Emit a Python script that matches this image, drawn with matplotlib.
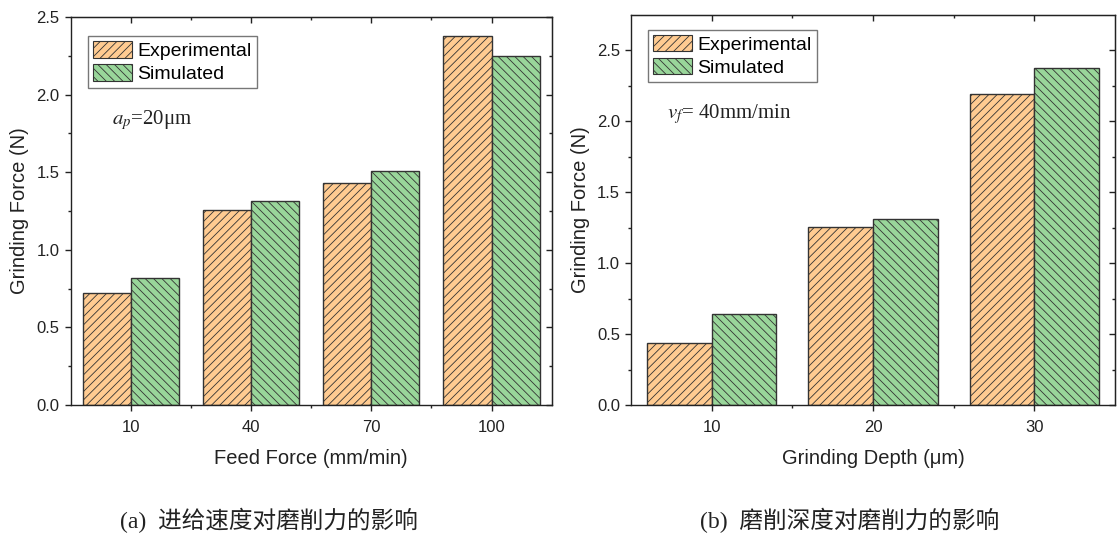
import numpy as np
import matplotlib
matplotlib.use("Agg")
import matplotlib.pyplot as plt
from matplotlib.patches import Patch

# ---- data ----
feed_labels = ["10", "40", "70", "100"]
feed_exp = [0.72, 1.256, 1.43, 2.38]
feed_sim = [0.82, 1.314, 1.508, 2.247]

depth_labels = ["10", "20", "30"]
depth_exp = [0.44, 1.256, 2.195]
depth_sim = [0.64, 1.315, 2.376]

series_names = ["Experimental", "Simulated"]
xlabels = ["Feed Force (mm/min)", "Grinding Depth (μm)"]
ylabel = "Grinding Force (N)"
notes = [r"$a_p$=20μm", r"$v_f$= 40mm/min"]
captions = ["(a)  进给速度对磨削力的影响", "(b)  磨削深度对磨削力的影响"]

# ---- style ----
plt.rcParams["font.family"] = ["Liberation Sans", "DejaVu Sans"]
plt.rcParams["mathtext.fontset"] = "stix"
plt.rcParams["hatch.linewidth"] = 0.6
plt.rcParams["hatch.color"] = "#333333"

c_exp = "#FFCB91"
c_sim = "#99D69A"
edge = "#333333"
h_exp = "////"
h_sim = "\\\\\\\\"

fig = plt.figure(figsize=(11.18, 5.36), dpi=100)
ax1 = fig.add_axes([0.0632, 0.2444, 0.4302, 0.7239])
ax2 = fig.add_axes([0.5644, 0.2444, 0.4329, 0.7276])

panels = [
    (ax1, feed_labels, feed_exp, feed_sim, 2.5, xlabels[0], notes[0], (0.085, 0.735), (0.036, 0.951)),
    (ax2, depth_labels, depth_exp, depth_sim, 2.75, xlabels[1], notes[1], (0.075, 0.745), (0.035, 0.962)),
]

w = 0.4
for ax, cats, exp, sim, ytop, xl, note, npos, lpos in panels:
    x = np.arange(len(cats))
    ax.bar(x - w / 2, exp, w, color=c_exp, edgecolor=edge, linewidth=1.0, hatch=h_exp, zorder=2)
    ax.bar(x + w / 2, sim, w, color=c_sim, edgecolor=edge, linewidth=1.0, hatch=h_sim, zorder=2)
    ax.set_xlim(-0.5, len(cats) - 0.5)
    ax.set_ylim(0, ytop)
    ax.set_xticks(x)
    ax.set_xticklabels(cats)
    ax.set_xticks(x[:-1] + 0.5, minor=True)
    yt = np.arange(0, ytop + 0.001, 0.5)
    ax.set_yticks(yt)
    ax.set_yticklabels([f"{v:.1f}" for v in yt])
    ax.set_yticks(np.arange(0.25, ytop, 0.5), minor=True)
    ax.tick_params(axis="both", which="major", direction="out", length=4, width=1, labelsize=12, colors="#222222")
    ax.tick_params(axis="x", which="major", pad=7)
    ax.tick_params(axis="y", which="major", pad=4)
    ax.tick_params(axis="both", which="minor", direction="out", length=2.2, width=1, colors="#222222")
    for s in ax.spines.values():
        s.set_linewidth(1.0)
        s.set_color("#222222")
    # mirrored inward ticks on top and right
    sx = ax.secondary_xaxis("top")
    sx.set_xticks(x)
    sx.set_xticks(x[:-1] + 0.5, minor=True)
    sx.tick_params(which="both", direction="in", labeltop=False, width=1, colors="#222222")
    sx.tick_params(which="major", length=4)
    sx.tick_params(which="minor", length=2.2)
    sy = ax.secondary_yaxis("right")
    sy.set_yticks(yt)
    sy.set_yticks(np.arange(0.25, ytop, 0.5), minor=True)
    sy.tick_params(which="both", direction="in", labelright=False, width=1, colors="#222222")
    sy.tick_params(which="major", length=4)
    sy.tick_params(which="minor", length=2.2)

    ax.set_xlabel(xl, fontsize=14.5, labelpad=10, color="#222222")
    ax.set_ylabel(ylabel, fontsize=14.5, labelpad=5, color="#222222")
    ax.text(npos[0], npos[1], note, transform=ax.transAxes, fontsize=15,
            family=["Liberation Serif"], va="center", ha="left", color="#222222")

    handles = [Patch(facecolor=c_exp, edgecolor=edge, hatch=h_exp, linewidth=0.8),
               Patch(facecolor=c_sim, edgecolor=edge, hatch=h_sim, linewidth=0.8)]
    leg = ax.legend(handles, series_names, loc="upper left", bbox_to_anchor=lpos,
                    fontsize=14, frameon=True, fancybox=False, edgecolor="#555555",
                    handlelength=2.0, handleheight=0.95, handletextpad=0.3,
                    labelspacing=0.2, borderpad=0.25, borderaxespad=0.0)
    leg.get_frame().set_linewidth(1.0)

fig.text(269 / 1118, 0.03, captions[0], fontsize=17, ha="center", va="center",
         family=["Liberation Serif", "Noto Sans CJK SC"], color="#222222")
fig.text(850 / 1118, 0.03, captions[1], fontsize=17, ha="center", va="center",
         family=["Liberation Serif", "Noto Sans CJK SC"], color="#222222")

fig.savefig("out.png", dpi=100)
